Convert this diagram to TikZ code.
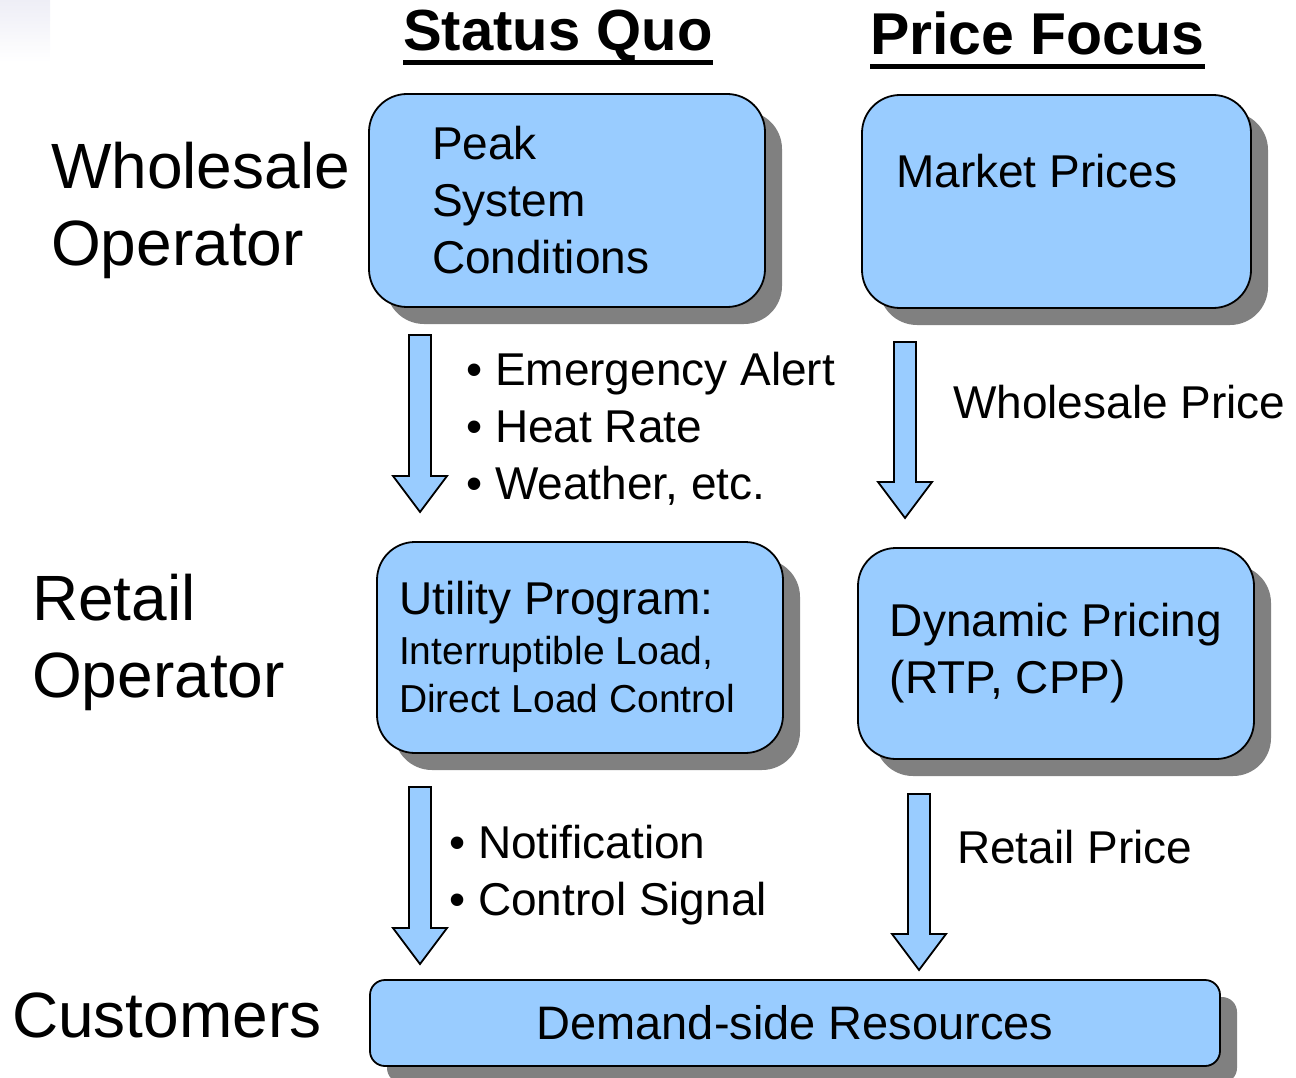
\documentclass[tikz,border=0pt]{standalone}
\usepackage{fontspec}
\setmainfont{Liberation Sans}
\usetikzlibrary{calc,shadows}

\definecolor{boxblue}{RGB}{153,204,255}
\definecolor{shadowgray}{RGB}{128,128,128}

% hollow block arrow from #1 down to the tip #2
\newcommand{\blockarrow}[2]{%
  \draw[blockarrow] ($(#1)+(-11,0)$) -- ($(#2)+(-11,-36)$) -- ($(#2)+(-27,-36)$)
    -- (#2) -- ($(#2)+(27,-36)$) -- ($(#2)+(11,-36)$) -- ($(#1)+(11,0)$) -- cycle;}

\begin{document}
\begin{tikzpicture}[x=1pt,y=-1pt]
  \tikzstyle{box}=[draw, line width=1.8pt, fill=boxblue, rounded corners=38pt,
    drop shadow={shadow xshift=17pt, shadow yshift=-17pt, fill=shadowgray, opacity=1}]
  \tikzstyle{blockarrow}=[draw, line width=1.8pt, fill=boxblue, line join=miter]
  \tikzstyle{rowlabel}=[inner sep=0pt, align=left, font=\fontsize{64}{77}\selectfont]
  \tikzstyle{title}=[inner sep=0pt, anchor=base west, font=\bfseries\fontsize{58}{68}\selectfont]
  \tikzstyle{txt}=[inner sep=0pt, align=left, font=\fontsize{46}{57}\selectfont]

  \useasboundingbox (0,0) rectangle (1296,1078);
  \shade[top color={rgb,255:red,238;green,238;blue,246}, bottom color=white]
    (0,0) rectangle (50,62);

  % column titles
  \node[title] (sq) at (403,51) {Status Quo};
  \node[title, font=\bfseries\fontsize{59}{68}\selectfont] (pf) at (870,55) {Price Focus};
  \draw[line width=5pt] ($(sq.base west)+(0,11.5)$) -- ($(sq.base east)+(0,11.5)$);
  \draw[line width=5pt] ($(pf.base west)+(0,11.5)$) -- ($(pf.base east)+(0,11.5)$);

  % row labels
  \node[rowlabel, anchor=north west] (wo) at (51,142) {Wholesale\\Operator};
  \node[rowlabel, anchor=north west] (ro) at (32,574) {Retail\\Operator};
  \node[rowlabel, anchor=base west] (cu) at (12,1037) {Customers};

  % boxes
  \node[box, minimum width=396pt, minimum height=213pt, txt, text width=270pt]
    (pk) at (567,200.5) {Peak\\System\\Conditions};
  \node[box, minimum width=389pt, minimum height=213pt] (mp) at (1056.5,201.5) {};
  \node[txt, anchor=base west] (mptxt) at (896,188) {Market Prices};
  \node[box, minimum width=406pt, minimum height=211pt, txt, align=flush left,
    text width=362pt] (up) at (580,647.5) {Utility Program:\\[-7pt]
      {\fontsize{39}{48}\selectfont Interruptible Load,}\\[-9pt]
      {\fontsize{39}{48}\selectfont Direct Load Control}};
  \node[box, minimum width=396pt, minimum height=211pt, txt]
    (dp) at (1056,653.5) {Dynamic Pricing\\(RTP, CPP)};
  \node[box, rounded corners=15pt, minimum width=850pt, minimum height=86pt,
    txt, font=\fontsize{47}{57}\selectfont] (dsr) at (795,1023) {Demand-side Resources};

  % arrows between the rows
  \coordinate (a1s) at (420,335);  \coordinate (a1e) at (420,512);
  \coordinate (a2s) at (905,342);  \coordinate (a2e) at (905,518);
  \coordinate (a3s) at (420,787);  \coordinate (a3e) at (420,964);
  \coordinate (a4s) at (919,794);  \coordinate (a4e) at (919,970);
  \blockarrow{a1s}{a1e}
  \blockarrow{a2s}{a2e}
  \blockarrow{a3s}{a3e}
  \blockarrow{a4s}{a4e}

  % arrow labels
  \node[txt, anchor=north west] (sig) at (466,352)
    {\textbullet\ Emergency Alert\\\textbullet\ Heat Rate\\\textbullet\ Weather, etc.};
  \node[txt, anchor=base west] (wp) at (953,418) {Wholesale Price};
  \node[txt, anchor=north west] (ntf) at (449,825)
    {\textbullet\ Notification\\\textbullet\ Control Signal};
  \node[txt, anchor=base west] (rp) at (957,863) {Retail Price};
\end{tikzpicture}
\end{document}
